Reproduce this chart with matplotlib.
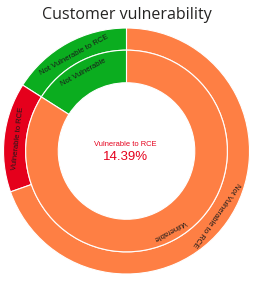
import numpy as np
import matplotlib
matplotlib.use("Agg")
import matplotlib.pyplot as plt

# inner ring: vulnerability status
inner_labels = ["Not Vulnerable", "Vulnerable"]
inner_values = [16.0, 84.0]
inner_colors = ["#0BAD1F", "#FE7F44"]

# outer ring: RCE status within each group
outer_labels = ["Not Vulnerable to RCE", "Vulnerable to RCE", "Not Vulnerable to RCE"]
outer_values = [16.0, 14.39, 69.61]
outer_colors = ["#0BAD1F", "#E5001C", "#FE7F44"]

center_label = "Vulnerable to RCE"
center_value = "14.39%"

fig = plt.figure(figsize=(2.56, 2.81), dpi=100)
ax = fig.add_axes([0.0137, 0.0249, 0.961, 0.8754])
ax.set_aspect("equal")
ax.axis("off")

r_out, r_mid, r_in = 1.0, 0.82, 0.555
wp = dict(edgecolor="white", linewidth=0.8)

w_out, _ = ax.pie(outer_values, colors=outer_colors, radius=r_out, startangle=90,
                  counterclock=True, wedgeprops=dict(width=r_out - r_mid, **wp))
w_in, _ = ax.pie(inner_values, colors=inner_colors, radius=r_mid, startangle=90,
                 counterclock=True, wedgeprops=dict(width=r_mid - r_in, **wp))


def add_labels(wedges, labels, rad):
    for w, lab in zip(wedges, labels):
        ang = (w.theta1 + w.theta2) / 2.0
        x = rad * np.cos(np.radians(ang))
        y = rad * np.sin(np.radians(ang))
        ax.text(x, y, lab, rotation=ang - 90, rotation_mode="anchor",
                ha="center", va="center", fontsize=5.5, color="#1a1a1a",
                family="Liberation Sans")


add_labels(w_out, outer_labels, 0.89)
add_labels(w_in, inner_labels, 0.73)

ax.text(-0.01, 0.05, center_label, ha="center", va="center", fontsize=5.4,
        color="#E5001C", family="Liberation Sans")
ax.text(-0.01, -0.045, center_value, ha="center", va="center", fontsize=9.5,
        color="#E5001C", family="Liberation Sans")

ax.set_xlim(-1, 1)
ax.set_ylim(-1, 1)

fig.text(0.495, 0.947, "Customer vulnerability", ha="center", va="center",
         fontsize=11.5, color="#252423", family="Open Sans")

fig.savefig("out.png", dpi=100)
